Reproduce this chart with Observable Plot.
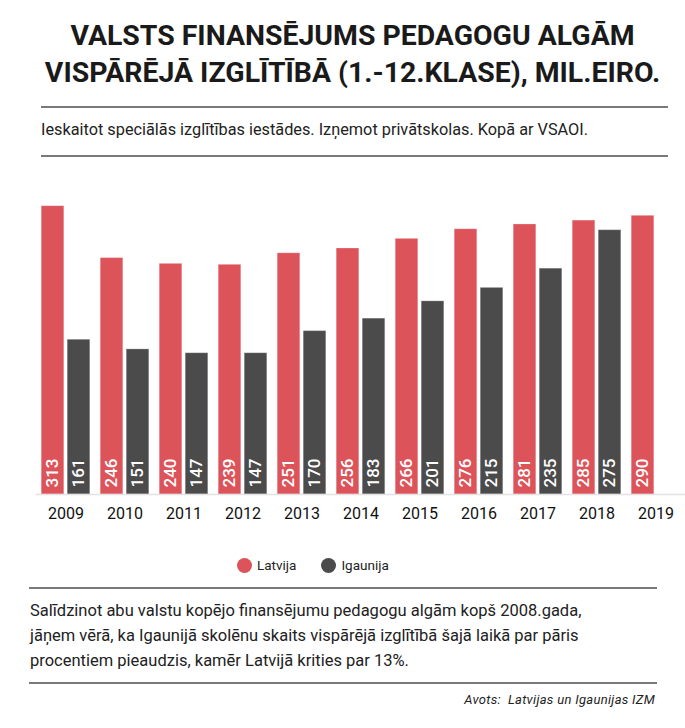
<!DOCTYPE html>
<html>
<head>
<meta charset="utf-8">
<script src="https://cdn.jsdelivr.net/npm/d3@7"></script>
<script src="https://cdn.jsdelivr.net/npm/@observablehq/plot@0.6"></script>
<style>
  html, body { margin: 0; padding: 0; background: #fff; }
  body { width: 685px; height: 728px; position: relative; font-family: Roboto, "Noto Sans", sans-serif; color: #222; overflow: hidden; }
  .abs { position: absolute; }
  #title { left: 20px; width: 665px; top: 17px; text-align: center; font-weight: 700; font-size: 28.4px; line-height: 37px; color: #1a1a1a; }
  .rule { position: absolute; height: 2px; background: #7a7a7a; }
  #subtitle { left: 41px; top: 120px; font-size: 16.3px; color: #222; }
  #chart { left: 0; top: 160px; }
  #legend { top: 557px; left: 237px; font-size: 13.5px; display: flex; align-items: center; color: #222; }
  .dot { width: 15px; height: 15px; border-radius: 50%; display: inline-block; margin-right: 5px; }
  #caption { left: 30px; top: 598px; font-size: 16.5px; line-height: 25px; color: #222; }
  #source { right: 30px; top: 692px; font-size: 13px; letter-spacing: 0.3px; font-style: italic; color: #222; }
</style>
</head>
<body>
<div id="title" class="abs">VALSTS FINANSĒJUMS PEDAGOGU ALGĀM<br>VISPĀRĒJĀ IZGLĪTĪBĀ (1.-12.KLASE), MIL.EIRO.</div>
<div class="rule" style="left:41px; width:627px; top:106px;"></div>
<div id="subtitle" class="abs">Ieskaitot speciālās izglītības iestādes. Izņemot privātskolas. Kopā ar VSAOI.</div>
<div class="rule" style="left:41px; width:627px; top:155px;"></div>
<div id="chart" class="abs"></div>
<div id="legend" class="abs"></div>
<div class="rule" style="left:29px; width:628px; top:587px;"></div>
<div id="caption" class="abs">Salīdzinot abu valstu kopējo finansējumu pedagogu algām kopš 2008.gada,<br>jāņem vērā, ka Igaunijā skolēnu skaits vispārējā izglītībā šajā laikā par pāris<br>procentiem pieaudzis, kamēr Latvijā krities par 13%.</div>
<div class="rule" style="left:29px; width:628px; top:682px;"></div>
<div id="source" class="abs">Avots:&nbsp; Latvijas un Igaunijas IZM</div>
<script>
const years = [2009, 2010, 2011, 2012, 2013, 2014, 2015, 2016, 2017, 2018, 2019];
const latvija = [313, 246, 240, 239, 251, 256, 266, 276, 281, 285, 290];
const igaunija = [161, 151, 147, 147, 170, 183, 201, 215, 235, 275, null];
const seriesNames = ["Latvija", "Igaunija"];
const seriesColors = ["#dc535a", "#4b4b4b"];

const lvData = years.map((y, i) => ({year: String(y), value: latvija[i]}));
const eeData = years.map((y, i) => ({year: String(y), value: igaunija[i]})).filter(d => d.value != null);

const chart = Plot.plot({
  width: 685,
  height: 370,
  marginLeft: 35.5,
  marginRight: 0,
  marginTop: 45.7,
  marginBottom: 36,
  style: {fontFamily: "Roboto, sans-serif", fontSize: "16px", color: "#111", background: "transparent"},
  x: {type: "band", domain: years.map(String), padding: 0, label: null, tickSize: 0, tickPadding: 13},
  y: {domain: [0, 300], clamp: true, axis: null},
  marks: [
    Plot.barY(lvData, {x: "year", y: "value", fill: seriesColors[0], stroke: "#fff", strokeOpacity: 0.25, insetLeft: 5.2, insetRight: 31.2}),
    Plot.barY(eeData, {x: "year", y: "value", fill: seriesColors[1], stroke: "#fff", strokeOpacity: 0.25, insetLeft: 31.2, insetRight: 5.2}),
    Plot.ruleY([0], {stroke: "#e2e2e2", strokeWidth: 1.5}),
    Plot.text(lvData, {x: "year", y: 0, text: d => String(d.value), rotate: -90, textAnchor: "start", dx: -13, dy: -7, fill: "white", fontSize: 17, fontWeight: 500}),
    Plot.text(eeData, {x: "year", y: 0, text: d => String(d.value), rotate: -90, textAnchor: "start", dx: 13, dy: -7, fill: "white", fontSize: 17, fontWeight: 500})
  ]
});
document.getElementById("chart").appendChild(chart);

const legend = document.getElementById("legend");
seriesNames.forEach((name, i) => {
  const item = document.createElement("span");
  item.style.display = "inline-flex";
  item.style.alignItems = "center";
  item.style.marginRight = i === 0 ? "25px" : "0";
  item.innerHTML = `<span class="dot" style="background:${seriesColors[i]}"></span>${name}`;
  legend.appendChild(item);
});
</script>
</body>
</html>
